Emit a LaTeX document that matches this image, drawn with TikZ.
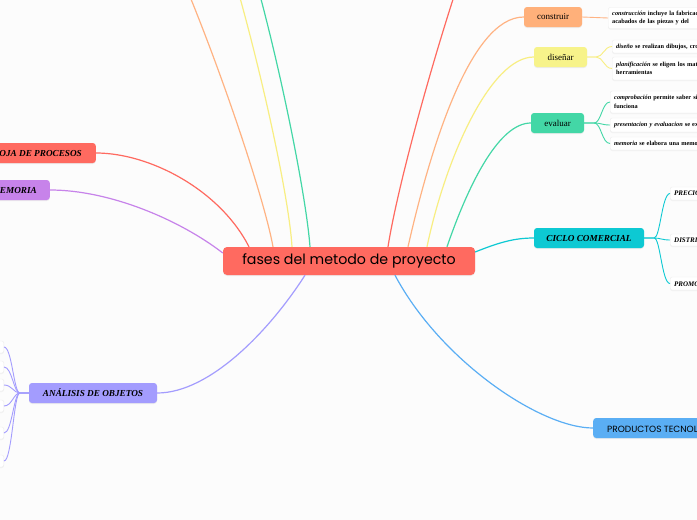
\documentclass[tikz,border=0pt]{standalone}
\usepackage{fontspec}
\setmainfont{Liberation Serif}
\newfontfamily\centralfont{Poppins}
\newfontfamily\capsfont{Poppins}
\usetikzlibrary{shadows}
\definecolor{bg}{HTML}{FCFCFC}
\definecolor{cred}{HTML}{FF6A60}
\definecolor{corange}{HTML}{FFB07A}
\definecolor{cyellow}{HTML}{F7F38A}
\definecolor{cgreen}{HTML}{43D7A6}
\definecolor{ccyan}{HTML}{0DC9D3}
\definecolor{cblue}{HTML}{5AAEF4}
\definecolor{cpurple}{HTML}{C783EA}
\definecolor{cperi}{HTML}{A39CFE}
\definecolor{lorange}{HTML}{FFB383}
\definecolor{lyellow}{HTML}{F8EE82}
\definecolor{lgreen}{HTML}{43D7A6}
\begin{document}
\begin{tikzpicture}[x=1pt,y=-1pt,
  mainbox/.style={fill=cred, rounded corners=4pt, minimum width=252pt, minimum height=28pt,
    inner sep=0pt, font=\centralfont\fontsize{14.2}{15}\selectfont, drop shadow={opacity=0.12,shadow xshift=0pt,shadow yshift=-1pt}},
  topic/.style={rounded corners=3pt, minimum height=20pt, inner sep=0pt,
    font=\fontsize{9}{9}\selectfont, drop shadow={opacity=0.12,shadow xshift=0pt,shadow yshift=-1pt}},
  fancy/.style={font=\bfseries\itshape\fontsize{9.2}{9}\selectfont},
  leaf/.style={fill=white, draw=black!7, rounded corners=2pt, anchor=west, align=left,
    inner xsep=4pt, inner ysep=0pt, text width=170pt,
    font=\bfseries\fontsize{6.3}{8.5}\selectfont, drop shadow={opacity=0.08,shadow xshift=0pt,shadow yshift=-1pt}},
  leafcap/.style={leaf, font=\bfseries\itshape\fontsize{7}{8}\selectfont},
  conn/.style={line width=1.2pt},
  thin/.style={line width=0.9pt}
]
\useasboundingbox (0,0) rectangle (697,520);
\clip (0,0) rectangle (697,520);
\fill[bg] (0,0) rectangle (697,520);

% off-screen ends
\coordinate (offR) at (485,-90);
\coordinate (offO) at (150,-90);
\coordinate (offY) at (212,-90);
\coordinate (offG) at (233,-90);

% nodes
\node[mainbox] (central) at (349,261) {fases del metodo de proyecto};

\node[topic, fill=corange, minimum width=58pt] (construir) at (553,17) {construir};
\node[topic, fill=cyellow, minimum width=53pt] (disenar) at (560.5,57) {diseñar};
\node[topic, fill=cgreen, minimum width=53pt] (evaluar) at (557.5,123) {evaluar};
\node[topic, fancy, fill=ccyan, minimum width=110pt] (ciclo) at (589,238) {CICLO COMERCIAL};
\node[topic, fancy, fill=cred, anchor=east, inner xsep=14pt] (hoja) at (96,153) {HOJA DE PROCESOS};
\node[topic, fancy, fill=cpurple, anchor=east, inner xsep=13pt] (memoria) at (50,190) {MEMORIA};
\node[topic, fancy, fill=cperi, minimum width=128pt] (analisis) at (93,393) {ANÁLISIS DE OBJETOS};
\node[topic, fill=cblue, anchor=west, inner xsep=14pt, font=\capsfont\fontsize{9}{9}\selectfont] (productos) at (593,428) {PRODUCTOS TECNOLÓGICOS};

% leaves
\node[leaf, minimum height=21pt] (construccion) at (608,18) {{\itshape construcción} incluye la fabricación\\acabados de las piezas y del};
\node[leaf, minimum height=13pt] (diseno) at (612,46.5) {{\itshape diseño} se realizan dibujos, croquis};
\node[leaf, minimum height=23pt] (planif) at (612,68.5) {{\itshape planificación} se eligen los materiales\\herramientas};
\node[leaf, minimum height=22pt] (comprob) at (610,102) {{\itshape comprobación} permite saber si\\funciona};
\node[leaf, minimum height=14pt] (present) at (610,125) {{\itshape presentacion y evaluacion} se expone};
\node[leaf, minimum height=13pt] (memo2) at (610,143.5) {{\itshape memoria} se elabora una memoria};
\node[leafcap, minimum height=13pt] (precio) at (670,193.5) {PRECIO};
\node[leafcap, minimum height=12pt] (distr) at (670,240) {DISTRIBUCIÓN};
\node[leafcap, minimum height=13pt] (promo) at (670,283.5) {PROMOCIÓN};

\node[leaf, anchor=east, text width=22pt, minimum height=12pt] (a1) at (4,347) {};
\node[leaf, anchor=east, text width=22pt, minimum height=12pt] (a2) at (4,367) {};
\node[leaf, anchor=east, text width=22pt, minimum height=12pt] (a3) at (4,385) {};
\node[leaf, anchor=east, text width=22pt, minimum height=12pt] (a4) at (4,406) {};
\node[leaf, anchor=east, text width=22pt, minimum height=12pt] (a5) at (4,433) {};
\node[leaf, anchor=east, text width=22pt, minimum height=12pt] (a6) at (4,461) {};

% main connectors
\draw[conn, cred] ([xshift=39pt]central.north) .. controls (400,170) and (455,-20) .. (offR);
\draw[conn, lorange] ([xshift=59pt]central.north) .. controls (430,150) and (470,17) .. (construir.west);
\draw[conn, lyellow] ([xshift=78pt]central.north) .. controls (445,160) and (490,57) .. (disenar.west);
\draw[conn, lgreen] ([xshift=98pt]central.north) .. controls (470,180) and (500,123) .. (evaluar.west);
\draw[conn, ccyan] ([yshift=9pt]central.east) .. controls (500,242) and (515,238) .. (ciclo.west);
\draw[conn, cblue] ([xshift=46pt]central.south) .. controls (440,360) and (540,428) .. (productos.west);
\draw[conn, cperi] ([xshift=-44pt]central.south) .. controls (270,330) and (210,393) .. (analisis.east);
\draw[conn, cpurple] ([yshift=8pt]central.west) .. controls (180,220) and (110,190) .. (memoria.east);
\draw[conn, cred] ([xshift=-100pt]central.north) .. controls (220,190) and (150,153) .. (hoja.east);
\draw[conn, lorange] ([xshift=-76pt]central.north) .. controls (262,185) and (190,-20) .. (offO);
\draw[conn, lyellow] ([xshift=-57pt]central.north) .. controls (288,180) and (240,-20) .. (offY);
\draw[conn, lgreen] ([xshift=-39pt]central.north) .. controls (305,180) and (262,-20) .. (offG);

% sub connectors
\draw[thin, lorange] (construir.east) -- (construccion.west);
\foreach \c in {diseno,planif}
  \draw[thin, lyellow] (disenar.east) -- ++(9,0) .. controls +(7,0) and +(-8,0) .. (\c.west);
\foreach \c in {comprob,present,memo2}
  \draw[thin, lgreen] (evaluar.east) -- ++(10,0) .. controls +(7,0) and +(-8,0) .. (\c.west);
\foreach \c in {precio,distr,promo}
  \draw[thin, ccyan] (ciclo.east) -- ++(10,0) .. controls +(6,0) and +(-8,0) .. (\c.west);
\foreach \c in {a1,a2,a3,a4,a5,a6}
  \draw[thin, cperi] (analisis.west) -- ++(-9,0) .. controls +(-6,0) and +(8,0) .. (\c.east);
\end{tikzpicture}
\end{document}
